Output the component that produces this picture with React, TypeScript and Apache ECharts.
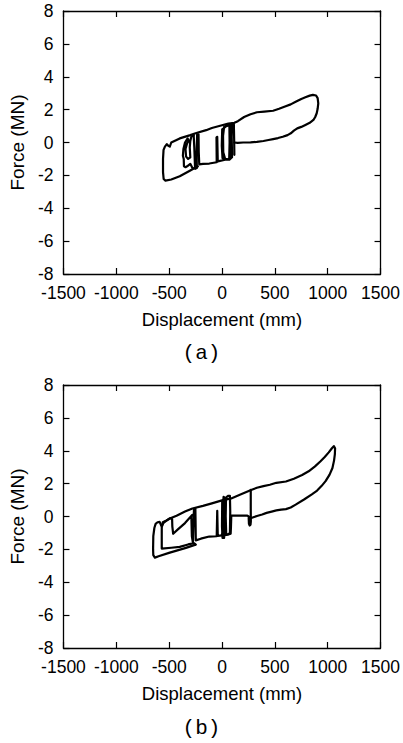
import React, { useEffect, useRef } from "react";
import * as echarts from "echarts";

// ---- tick values ----
const xTicks = [-1500, -1000, -500, 0, 500, 1000, 1500];
const yTicks = [-8, -6, -4, -2, 0, 2, 4, 6, 8];
const xTitle = "Displacement (mm)";
const yTitle = "Force (MN)";
const captions = ["(a)", "(b)"];

// ---- chart (a): displacement (mm), force (MN) segments ----
const aOuter: number[][] = [
  [-230, -1.45], [-300, -1.7], [-400, -2.05], [-480, -2.25], [-535, -2.32], [-552, -2.22], [-558, -1.8],
  [-558, -1.0], [-553, -0.45], [-540, -0.25], [-522, -0.1], [-508, -0.2], [-494, -0.25], [-480, 0.0],
  [-400, 0.25], [-300, 0.45], [-250, 0.56], [-150, 0.75], [-96, 0.88], [0, 1.05], [60, 1.15], [117, 1.2],
  [150, 1.3], [209, 1.55], [270, 1.72], [331, 1.84], [400, 1.88], [484, 1.93], [540, 2.05], [590, 2.18],
  [650, 2.32], [697, 2.48], [750, 2.65], [789, 2.75], [830, 2.85], [860, 2.9], [890, 2.86], [905, 2.7],
  [911, 2.38], [905, 2.05], [896, 1.78], [882, 1.55], [865, 1.37], [830, 1.2], [789, 1.07], [750, 0.95],
  [712, 0.86], [680, 0.72], [651, 0.56], [620, 0.45], [575, 0.35], [530, 0.27], [484, 0.21], [440, 0.15],
  [392, 0.09], [330, 0.04], [270, 0.01], [200, 0.0], [148, -0.02], [117, 0.0],
];
const aCentre: number[][] = [
  [117, -0.75], [115, 0.2], [112, 1.15], [95, 1.15], [92, 0.3], [95, -0.9], [70, -1.05], [30, -1.0],
  [12, -0.6], [10, 0.4], [20, 0.95], [60, 1.1], [78, 1.1], [82, 0.2], [80, -0.95], [50, -1.05], [5, -0.95],
  [-2, -0.2], [2, 0.8], [40, 1.0], [70, 1.05], [72, 0.0], [68, -1.0], [30, -1.05], [-40, -1.15],
  [-45, 0.35], [-52, 0.3], [-50, -1.2], [-120, -1.28], [-180, -1.3], [-215, -1.33], [-220, -0.6],
  [-222, 0.5], [-235, 0.5], [-240, -0.6], [-238, -1.55], [-255, -1.55], [-262, -0.3], [-268, 0.45],
];
const aLeft: number[][] = [
  [-268, 0.45], [-290, 0.35], [-300, 0.1], [-305, -0.3], [-300, -0.9], [-320, -1.0], [-340, -0.85],
  [-345, -0.4], [-330, -0.05], [-315, 0.1], [-325, 0.25], [-350, 0.0], [-365, -0.4], [-370, -0.8],
  [-362, -1.0], [-360, -1.45], [-345, -1.5], [-330, -1.45], [-300, -1.3], [-280, -1.55], [-250, -1.6],
  [-230, -1.45],
];

// ---- chart (b) ----
const bOuter: number[][] = [
  [-250, -1.71], [-341, -1.91], [-494, -2.2], [-600, -2.42], [-635, -2.5], [-650, -2.35], [-652, -2.0],
  [-650, -1.2], [-640, -0.7], [-628, -0.45], [-610, -0.35], [-590, -0.33], [-575, -0.55], [-568, -0.6],
  [-555, -0.4], [-535, -0.3], [-494, -0.12], [-430, 0.05], [-350, 0.3], [-280, 0.49], [-180, 0.65],
  [-96, 0.8], [0, 0.98], [87, 1.1], [180, 1.35], [270, 1.6], [330, 1.75], [392, 1.85], [453, 1.93],
  [514, 2.05], [605, 2.13], [680, 2.3], [758, 2.52], [820, 2.75], [880, 3.05], [930, 3.35], [972, 3.62],
  [1010, 3.9], [1040, 4.15], [1058, 4.28], [1070, 4.15], [1068, 3.8], [1060, 3.4], [1045, 2.95],
  [1018, 2.55], [980, 2.15], [941, 1.85], [900, 1.58], [850, 1.35], [780, 1.05], [697, 0.72], [650, 0.55],
  [605, 0.45], [560, 0.42], [514, 0.37], [470, 0.3], [422, 0.22], [380, 0.12], [331, 0.03], [290, -0.06],
  [272, -0.1],
];
const bCentre: number[][] = [
  [272, 1.62], [272, 0.5], [273, -0.3], [270, -0.5], [262, -0.55], [255, -0.45], [252, 0.0], [240, 0.05],
  [180, 0.05], [120, 0.06], [88, 0.05], [85, -0.6], [82, -1.05], [60, -1.1], [40, -1.12], [35, 0.0],
  [38, 1.15], [55, 1.25], [75, 1.25], [78, 0.3], [75, -1.0], [50, -1.1], [20, -1.15], [10, -0.5], [8, 0.6],
  [15, 1.2], [30, 1.1], [25, -0.3], [20, -1.3], [5, -1.3], [0, -0.6], [2, 0.9], [12, 1.0], [10, -0.4],
  [0, -1.15],
];
const bLeft: number[][] = [
  [0, -1.15], [-40, -1.18], [-45, 0.35], [-50, -1.2], [-120, -1.22], [-200, -1.35], [-248, -1.45],
  [-250, -0.3], [-252, 0.5], [-265, 0.45], [-270, -0.5], [-275, -1.6], [-285, -1.2], [-290, 0.0],
  [-280, 0.1], [-350, -0.4], [-420, -0.8], [-462, -1.05], [-470, -0.6], [-472, -0.15], [-490, -0.1],
  [-530, -0.25], [-560, -0.35], [-570, -0.6], [-570, -1.95], [-480, -1.9], [-400, -1.85], [-320, -1.7],
  [-265, -1.62], [-250, -1.71],
];

const panels = [
  { segments: [aOuter, aCentre, aLeft], top: 11, caption: captions[0], captionY: 355 },
  { segments: [bOuter, bCentre, bLeft], top: 385, caption: captions[1], captionY: 730 },
];

const FONT = "'Liberation Sans', Arial, Helvetica, sans-serif";

export default function App() {
  const ref = useRef<HTMLDivElement>(null);
  useEffect(() => {
    if (!ref.current) return;
    const chart = echarts.init(ref.current, undefined, { renderer: "svg" });
    const frame = { show: true, onZero: false, lineStyle: { color: "#000", width: 1.3 } };
    const tick = { show: true, inside: true, length: 6, lineStyle: { color: "#000", width: 1.2 } };
    const plain = (v: number) => String(v);
    const grids: any[] = [];
    const xAxes: any[] = [];
    const yAxes: any[] = [];
    const series: any[] = [];
    panels.forEach((p, i) => {
      grids.push({ left: 53.3, width: 327.7, top: p.top, height: 263 });
      xAxes.push({
        type: "value", gridIndex: i, position: "bottom", min: xTicks[0], max: xTicks[xTicks.length - 1],
        interval: 500, axisLine: frame, axisTick: tick, splitLine: { show: false },
        axisLabel: { color: "#000", fontSize: 17.5, fontFamily: FONT, margin: 10, formatter: plain },
        name: xTitle, nameLocation: "middle", nameGap: 36,
        nameTextStyle: { color: "#000", fontSize: 18.5, fontFamily: FONT },
      });
      xAxes.push({
        type: "value", gridIndex: i, position: "top", min: xTicks[0], max: xTicks[xTicks.length - 1],
        interval: 500, axisLine: frame, axisTick: tick, splitLine: { show: false }, axisLabel: { show: false },
      });
      yAxes.push({
        type: "value", gridIndex: i, position: "left", min: yTicks[0], max: yTicks[yTicks.length - 1],
        interval: 2, axisLine: frame, axisTick: tick, splitLine: { show: false },
        axisLabel: { color: "#000", fontSize: 17.5, fontFamily: FONT, margin: 10, formatter: plain },
        name: yTitle, nameLocation: "middle", nameGap: 26,
        nameTextStyle: { color: "#000", fontSize: 19, fontFamily: FONT },
      });
      yAxes.push({
        type: "value", gridIndex: i, position: "right", min: yTicks[0], max: yTicks[yTicks.length - 1],
        interval: 2, axisLine: frame, axisTick: tick, splitLine: { show: false }, axisLabel: { show: false },
      });
      p.segments.forEach((seg) => {
        series.push({
          type: "line", xAxisIndex: i * 2, yAxisIndex: i * 2, data: seg, showSymbol: false, symbol: "none",
          lineStyle: { color: "#000", width: 2.2, join: "round", cap: "round" }, smooth: false,
        });
      });
    });
    chart.setOption({
      animation: false,
      backgroundColor: "#fff",
      grid: grids,
      xAxis: xAxes,
      yAxis: yAxes,
      series,
      graphic: panels.map((p) => ({
        type: "text", left: "center", top: p.captionY - 12,
        style: { text: p.caption, fontSize: 21, fontFamily: "'Liberation Mono', 'Courier New', monospace", fill: "#000" },
      })),
    });
    return () => chart.dispose();
  }, []);
  return <div ref={ref} style={{ position: "fixed", left: 0, top: 0, width: 403, height: 743, background: "#fff" }} />;
}
